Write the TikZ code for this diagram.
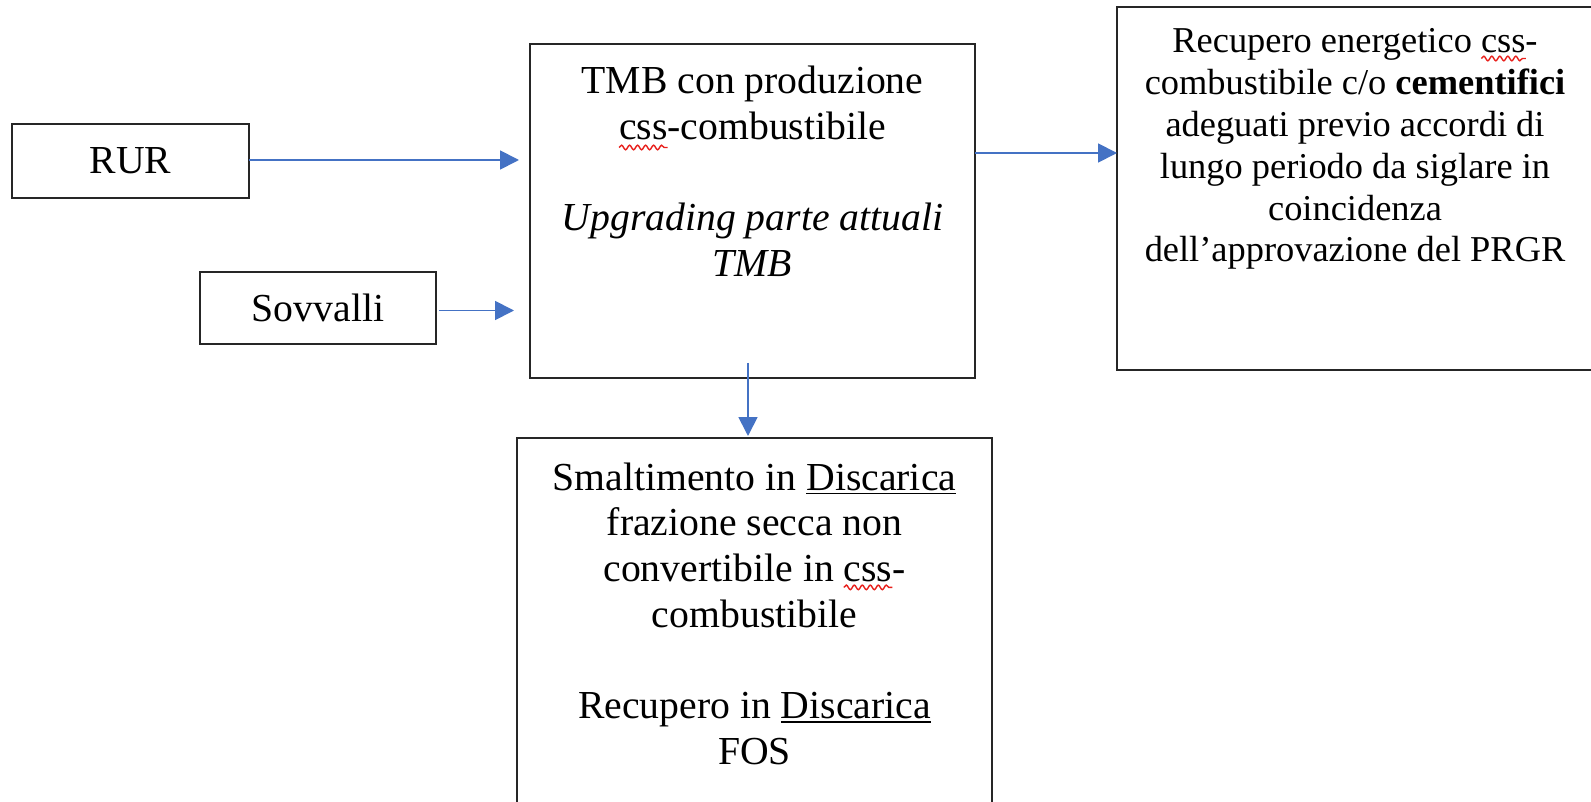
\documentclass[tikz,border=0pt]{standalone}
\usepackage{fontspec}
\setmainfont{Liberation Serif}
\usetikzlibrary{arrows.meta,decorations.pathmorphing}
\definecolor{arrblue}{HTML}{4472C4}
\definecolor{spellred}{HTML}{E8201C}
\newcommand\bigsz{\fontsize{39.7pt}{45.7pt}\selectfont}
\newcommand\smallsz{\fontsize{36.4pt}{41.8pt}\selectfont}
\newcommand\myul[1]{{\setbox0\hbox{#1}\rlap{\rule[-4.2pt]{\wd0}{1.7pt}}\box0}}
\newcommand\txtblock[1]{\vtop{\hsize=600pt\parindent=0pt\centering #1\par}}
\begin{document}
\begin{tikzpicture}[x=1pt,y=-1pt,
  blk/.style={draw=black!85, line width=1.6pt, inner sep=0pt, outer sep=0pt, rectangle},
  txt/.style={anchor=base, inner sep=0pt, outer sep=0pt},
  arr/.style={draw=arrblue, line width=1.8pt, -{Triangle[length=19pt,width=19pt]}},
  wave/.style={draw=spellred, line width=1.4pt, decorate, decoration={snake, segment length=8pt, amplitude=2.3pt}}]
\useasboundingbox (0,0) rectangle (1591,802);
\clip (0,0) rectangle (1591,802);
\fill[white] (0,0) rectangle (1591,802);

% boxes
\node[blk, minimum width=237pt, minimum height=74pt] (rur) at (130.5,161) {\bigsz RUR};
\node[blk, minimum width=236pt, minimum height=72pt] (sov) at (318,308) {\bigsz Sovvalli};
\node[blk, minimum width=445pt, minimum height=334pt] (tmb) at (752.5,211) {};
\node[blk, minimum width=476pt, minimum height=363pt] (rec) at (1355,188.5) {};
\node[blk, minimum width=475pt, minimum height=400pt] (disc) at (754.5,638) {};

% texts
\node[txt] (tmbtxt) at (752.5,93.5) {\bigsz\txtblock{TMB con produzione\\css-combustibile\\[45.7pt]{\itshape Upgrading parte attuali\\TMB}}};
\node[txt] (rectxt) at (1355,53) {\smallsz\txtblock{Recupero energetico css-\\combustibile c/o \textbf{cementifici}\\adeguati previo accordi di\\lungo periodo da siglare in\\coincidenza\\dell’approvazione del PRGR}};
\node[txt] (disctxt) at (754.5,490) {\bigsz\txtblock{Smaltimento in \myul{Discarica}\\frazione secca non\\convertibile in css-\\combustibile\\[45.7pt]Recupero in \myul{Discarica}\\FOS}};

% spelling marks
\draw[wave] (619.1,147.5) -- (667.6,147.5);
\draw[wave] (1481.3,58.5) -- (1525.8,58.5);
\draw[wave] (843.8,587.4) -- (892.4,587.4);

% connectors
\draw[arr, shorten >=11pt] ([yshift=1pt]rur.east) -- ([yshift=1pt]rur.east -| tmb.west);
\draw[arr, shorten <=3pt, shorten >=16pt] ([yshift=-2.5pt]sov.east) -- ([yshift=-2.5pt]sov.east -| tmb.west);
\coordinate (k) at (0,153);
\draw[arr] (k -| tmb.east) -- (k -| rec.west);
\coordinate (vtop) at (748,363);
\draw[arr, shorten >=2pt] (vtop) -- (vtop |- disc.north);
\end{tikzpicture}
\end{document}
